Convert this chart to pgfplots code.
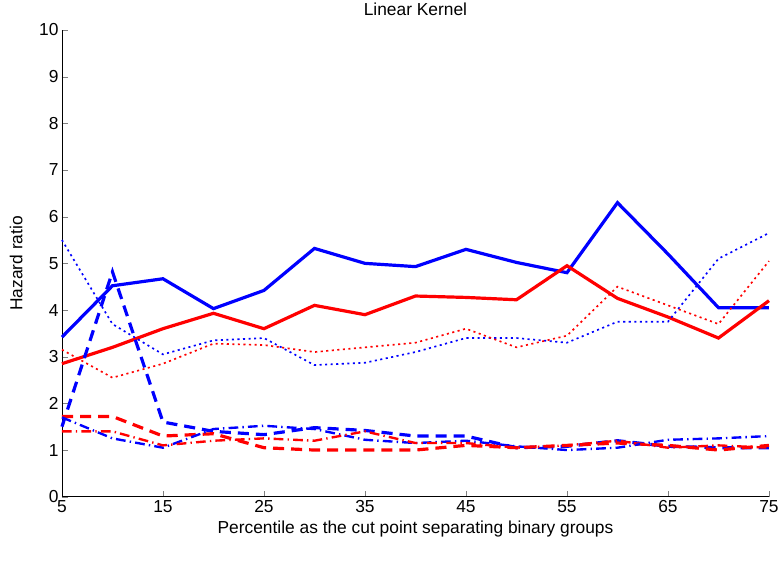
\documentclass[border=0pt]{standalone}
\usepackage{fontspec}
\setmainfont{Liberation Sans}
\usepackage{pgfplots}
\pgfplotsset{compat=1.18}
\begin{document}
\begin{tikzpicture}
\begin{axis}[
  width=509pt, height=336pt, scale only axis,
  xmin=5, xmax=75, ymin=0, ymax=10,
  xtick={5,15,...,75}, ytick={0,1,...,10},
  axis x line*=bottom, axis y line*=left,
  tick align=inside, major tick length=4pt,
  tick label style={font=\fontsize{12.5}{14}\selectfont},
  label style={font=\fontsize{12.5}{14}\selectfont},
  title style={font=\fontsize{12.5}{14}\selectfont, yshift=1pt},
  xticklabel style={yshift=1pt},
  yticklabel style={xshift=1pt},
  /pgf/number format/assume math mode=true,
  title={Linear Kernel},
  xlabel={Percentile as the cut point separating binary groups},
  ylabel={Hazard ratio},
  xlabel style={yshift=1pt},
  ylabel style={yshift=5pt},
  clip=false,
]
% blue solid
\addplot[blue, line width=2.3pt] coordinates {(5,3.42)(10,4.52)(15,4.67)(20,4.03)(25,4.42)(30,5.32)(35,5.0)(40,4.93)(45,5.3)(50,5.02)(55,4.8)(60,6.3)(65,5.2)(70,4.05)(75,4.05)};
% red solid
\addplot[red, line width=2.3pt] coordinates {(5,2.85)(10,3.2)(15,3.6)(20,3.93)(25,3.6)(30,4.1)(35,3.9)(40,4.3)(45,4.27)(50,4.22)(55,4.95)(60,4.25)(65,3.85)(70,3.4)(75,4.2)};
% blue dotted
\addplot[blue, line width=1.2pt, dash pattern=on 1.5pt off 2.5pt] coordinates {(5,5.5)(10,3.7)(15,3.05)(20,3.35)(25,3.4)(30,2.82)(35,2.87)(40,3.1)(45,3.4)(50,3.4)(55,3.3)(60,3.75)(65,3.75)(70,5.1)(75,5.65)};
% red dotted
\addplot[red, line width=1.2pt, dash pattern=on 1.5pt off 2.5pt] coordinates {(5,3.15)(10,2.55)(15,2.85)(20,3.28)(25,3.25)(30,3.1)(35,3.2)(40,3.3)(45,3.6)(50,3.2)(55,3.45)(60,4.5)(65,4.1)(70,3.7)(75,5.05)};
% blue dashed
\addplot[blue, line width=2.3pt, dash pattern=on 8pt off 5pt] coordinates {(5,1.5)(10,4.82)(15,1.6)(20,1.4)(25,1.33)(30,1.48)(35,1.42)(40,1.3)(45,1.3)(50,1.05)(55,1.08)(60,1.2)(65,1.08)(70,1.05)(75,1.05)};
% red dashed
\addplot[red, line width=2.3pt, dash pattern=on 8pt off 5pt] coordinates {(5,1.72)(10,1.72)(15,1.3)(20,1.35)(25,1.05)(30,1.0)(35,1.0)(40,1.0)(45,1.1)(50,1.05)(55,1.1)(60,1.15)(65,1.1)(70,1.0)(75,1.1)};
% blue dash-dot
\addplot[blue, line width=1.7pt, dash pattern=on 7pt off 3pt on 1pt off 3pt] coordinates {(5,1.7)(10,1.25)(15,1.05)(20,1.45)(25,1.52)(30,1.45)(35,1.22)(40,1.15)(45,1.2)(50,1.08)(55,1.0)(60,1.05)(65,1.22)(70,1.25)(75,1.3)};
% red dash-dot
\addplot[red, line width=1.7pt, dash pattern=on 7pt off 3pt on 1pt off 3pt] coordinates {(5,1.4)(10,1.4)(15,1.1)(20,1.2)(25,1.25)(30,1.2)(35,1.4)(40,1.15)(45,1.15)(50,1.05)(55,1.1)(60,1.2)(65,1.05)(70,1.1)(75,1.05)};
\end{axis}
\pgfresetboundingbox
\path ([xshift=-44.6pt,yshift=-51.1pt]current axis.south west) rectangle ([xshift=10.1pt,yshift=21.6pt]current axis.north east);
\end{tikzpicture}
\end{document}
